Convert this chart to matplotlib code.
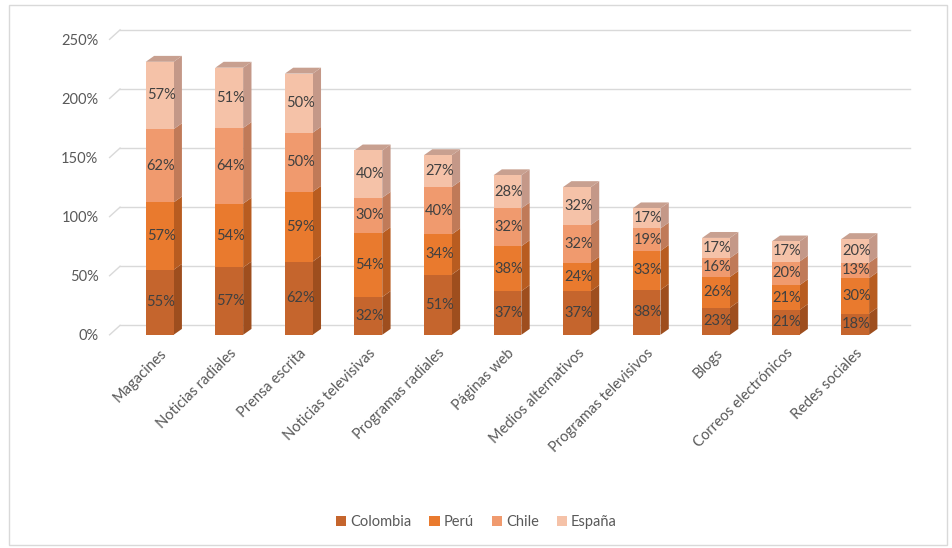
import numpy as np
import matplotlib.pyplot as plt
from matplotlib.patches import Polygon, Rectangle

plt.rcParams['font.family'] = ['Lato', 'DejaVu Sans']

categorias = ['Magacines', 'Noticias radiales', 'Prensa escrita', 'Noticias televisivas',
              'Programas radiales', 'Páginas web', 'Medios alternativos',
              'Programas televisivos', 'Blogs', 'Correos electrónicos', 'Redes sociales']
colombia = [55, 57, 62, 32, 51, 37, 37, 38, 23, 21, 18]
peru = [57, 54, 59, 54, 34, 38, 24, 33, 26, 21, 30]
chile = [62, 64, 50, 30, 40, 32, 32, 19, 16, 20, 13]
espana = [57, 51, 50, 40, 27, 28, 32, 17, 17, 17, 20]

series = [('Colombia', colombia), ('Perú', peru), ('Chile', chile), ('España', espana)]
front = ['#C5652D', '#E97A2E', '#F09A6E', '#F5C2A8']
side = ['#9E4E1E', '#B85C20', '#C07A58', '#C49888']
top = ['#B07050', '#C08060', '#C89080', '#C8A090']

fig = plt.figure(figsize=(9.53, 5.48), dpi=100)
fig.patches.append(Rectangle((0.009, 0.005), 0.985, 0.985, transform=fig.transFigure,
                             fill=False, edgecolor='#D9D9D9', lw=1))
ax = fig.add_axes([0.115, 0.389, 0.84, 0.55])

x = np.arange(len(categorias))
w = 0.4
dx, dy = 0.12, 5  # depth offset in data units

for yv in range(0, 251, 50):
    ax.plot([-0.57, 10.79], [yv + 8, yv + 8], color='#D9D9D9', lw=1, zorder=0, clip_on=False)
    ax.plot([-0.72, -0.57], [yv, yv + 8], color='#D9D9D9', lw=1, zorder=0, clip_on=False)

bottom = np.zeros(len(x))
for i, (name, vals) in enumerate(series):
    vals = np.array(vals, dtype=float)
    ax.bar(x, vals, w, bottom=bottom, color=front[i], label=name, zorder=3)
    for j in range(len(x)):
        xr = x[j] + w / 2
        b0, b1 = bottom[j], bottom[j] + vals[j]
        ax.add_patch(Polygon([(xr, b0), (xr + dx, b0 + dy), (xr + dx, b1 + dy), (xr, b1)],
                             closed=True, facecolor=side[i], edgecolor='none', zorder=2))
        if i == len(series) - 1:
            xl = x[j] - w / 2
            ax.add_patch(Polygon([(xl, b1), (xl + dx, b1 + dy), (xr + dx, b1 + dy), (xr, b1)],
                                 closed=True, facecolor=top[i], edgecolor='none', zorder=2))
        ax.text(x[j] + 0.02, b0 + vals[j] / 2, f'{int(vals[j])}%', ha='center', va='center',
                fontsize=10.5, color='#404040', zorder=4)
    bottom += vals

ax.set_xlim(-0.72, 10.79)
ax.set_ylim(0, 255)
ax.set_yticks(range(0, 251, 50))
ax.set_yticklabels([f'{v}%' for v in range(0, 251, 50)], fontsize=10.5, color='#595959')
ax.set_xticks(x)
ax.set_xticklabels(categorias, rotation=45, ha='right', rotation_mode='anchor',
                   fontsize=10.5, color='#595959')
ax.tick_params(length=0, pad=8)
for s in ax.spines.values():
    s.set_visible(False)

h, l = ax.get_legend_handles_labels()
fig.legend(h, l, loc='center', bbox_to_anchor=(0.5, 0.047), ncol=4, frameon=False,
           fontsize=10.5, handlelength=0.7, handleheight=0.7, handletextpad=0.3,
           columnspacing=1.2, labelcolor='#595959')

fig.savefig('out.png', dpi=100)
